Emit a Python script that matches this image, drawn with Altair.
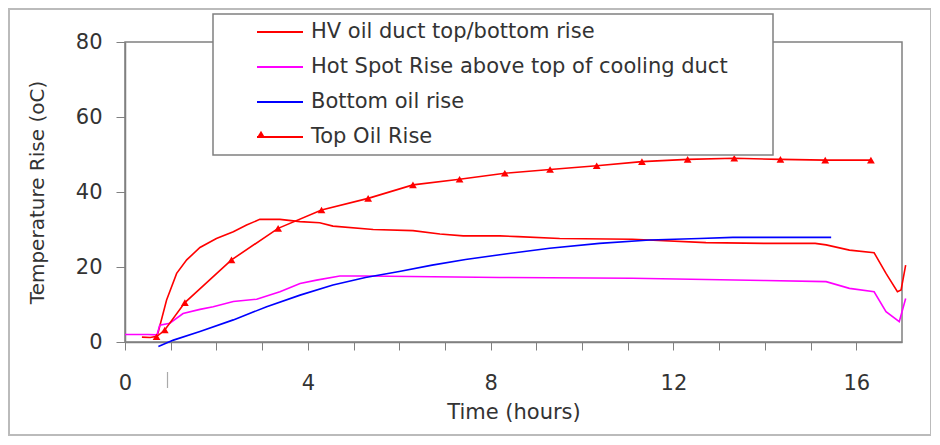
import altair as alt
import pandas as pd

# ---------------- data ----------------
series_names = [
    "HV oil duct top/bottom rise",
    "Hot Spot Rise above top of cooling duct",
    "Bottom oil rise",
    "Top Oil Rise",
]
series_colors = ["#ff0000", "#ff00ff", "#0000ff", "#ff0000"]

hv_time = [0.37, 0.55, 0.70, 0.73, 0.91, 1.13, 1.35, 1.64, 2.00, 2.37, 2.66, 2.95,
           3.39, 3.83, 4.26, 4.55, 5.43, 6.30, 6.89, 7.40, 8.20, 8.60, 9.51, 11.10,
           12.71, 14.00, 15.10, 15.34, 15.85, 16.39, 16.65, 16.90, 16.98, 17.08]
hv_rise = [1.3, 1.2, 1.5, 2.8, 11.2, 18.3, 21.9, 25.2, 27.6, 29.4, 31.2, 32.7,
           32.7, 32.1, 31.8, 30.9, 30.0, 29.7, 28.8, 28.3, 28.3, 28.1, 27.6, 27.4,
           26.5, 26.3, 26.3, 25.9, 24.5, 23.8, 18.3, 13.4, 13.9, 20.5]

hs_time = [0.00, 0.50, 0.70, 0.76, 0.98, 1.27, 1.64, 1.93, 2.37, 2.88, 3.39, 3.83,
           4.19, 4.70, 5.26, 8.20, 11.10, 14.00, 15.34, 15.85, 16.39, 16.65, 16.94, 17.08]
hs_rise = [2.0, 2.0, 1.9, 4.5, 5.0, 7.6, 8.7, 9.4, 10.8, 11.4, 13.4, 15.6,
           16.5, 17.6, 17.6, 17.2, 17.0, 16.4, 16.1, 14.3, 13.4, 8.1, 5.4, 11.6]

bo_time = [0.73, 1.06, 1.64, 2.37, 3.10, 3.83, 4.55, 5.26, 6.00, 6.72, 7.45, 8.40,
           9.29, 10.38, 11.48, 12.57, 13.30, 14.39, 15.45]
bo_rise = [-1.2, 0.5, 2.8, 5.9, 9.4, 12.5, 15.2, 17.2, 18.8, 20.5, 22.0, 23.6,
           25.0, 26.3, 27.2, 27.6, 27.9, 27.9, 27.9]

to_time = [0.69, 0.87, 1.31, 2.33, 3.35, 4.30, 5.32, 6.30, 7.32, 8.31, 9.30, 10.32,
           11.31, 12.31, 13.33, 14.34, 15.32, 16.32]
to_rise = [1.4, 3.2, 10.5, 21.9, 30.3, 35.2, 38.3, 41.9, 43.4, 45.0, 46.0, 47.0,
           48.1, 48.7, 49.0, 48.7, 48.5, 48.5]

x_ticks = list(range(0, 17))
y_ticks = list(range(0, 81, 10))
stray_mark_time = [0.93]

# ---------------- tables ----------------
rows = []
for name, ts, vs in [(series_names[0], hv_time, hv_rise),
                     (series_names[1], hs_time, hs_rise),
                     (series_names[2], bo_time, bo_rise),
                     (series_names[3], to_time, to_rise)]:
    for t, v in zip(ts, vs):
        rows.append({"series": name, "t": t, "v": v})
df = pd.DataFrame(rows)
df_top = pd.DataFrame({"t": to_time, "v": to_rise, "marker": series_names[3]})
df_stray = pd.DataFrame({"t": stray_mark_time})
df_frame = pd.DataFrame({"k": [0]})

FONT = "DejaVu Sans"
GRAY = "#808080"
TXT = "#333333"

x_enc = alt.X(
    "t:Q",
    scale=alt.Scale(domain=[0, 17], nice=False, zero=False),
    axis=alt.Axis(
        values=x_ticks,
        labelExpr="datum.value % 4 == 0 ? datum.label : ''",
        title="Time (hours)",
        grid=False,
        tickSize=8,
        labelPadding=22,
        titlePadding=8,
        domainColor=GRAY,
        tickColor=GRAY,
        domainWidth=1.5,
        labelFont=FONT,
        labelFontSize=21,
        labelColor=TXT,
        titleFont=FONT,
        titleFontSize=21,
        titleFontWeight="normal",
        titleColor=TXT,
        labelFlush=False,
    ),
)
y_enc = alt.Y(
    "v:Q",
    scale=alt.Scale(domain=[0, 80], nice=False),
    axis=alt.Axis(
        values=y_ticks,
        labelExpr="datum.value % 20 == 0 ? datum.label : ''",
        title="Temperature Rise (oC)",
        grid=False,
        tickSize=9,
        labelPadding=14,
        titlePadding=28,
        domainColor=GRAY,
        tickColor=GRAY,
        domainWidth=1.5,
        labelFont=FONT,
        labelFontSize=21,
        labelColor=TXT,
        titleFont=FONT,
        titleFontSize=20,
        titleFontWeight="normal",
        titleColor=TXT,
        labelFlush=False,
    ),
)

frame = alt.Chart(df_frame).mark_rect(
    fill=None, stroke="#bbbbbb", strokeWidth=2
).encode(
    x=alt.value(-116), x2=alt.value(806), y=alt.value(-33), y2=alt.value(393)
)

lines = alt.Chart(df).mark_line(strokeWidth=1.6, clip=False).encode(
    x=x_enc,
    y=y_enc,
    color=alt.Color(
        "series:N",
        sort=series_names,
        scale=alt.Scale(domain=series_names, range=series_colors),
        legend=alt.Legend(
            orient="none",
            legendX=88,
            legendY=-28,
            # invisible spacer title on the right widens the box like the original
            title=".",
            titleOrient="right",
            titleOpacity=0,
            titlePadding=31,
            titleFontSize=21,
            symbolType="stroke",
            symbolSize=2116,
            symbolStrokeWidth=2,
            clipHeight=20,
            rowPadding=14,
            padding=8,
            symbolOffset=35,
            labelOffset=7,
            labelFont=FONT,
            labelFontSize=21,
            labelColor=TXT,
            labelLimit=700,
            fillColor="white",
            strokeColor=GRAY,
        ),
    ),
)

points = alt.Chart(df_top).mark_point(
    filled=True, size=60, color="#ff0000", opacity=1, clip=False
).encode(
    x="t:Q",
    y="v:Q",
    shape=alt.Shape(
        "marker:N",
        scale=alt.Scale(domain=[series_names[3]], range=["triangle-up"]),
        legend=alt.Legend(
            orient="none",
            legendX=96 + 35,
            legendY=-28 + 8 + 3 * 34,
            title=None,
            padding=0,
            symbolSize=60,
            symbolFillColor="#ff0000",
            symbolStrokeColor="#ff0000",
            symbolStrokeWidth=0,
            symbolOpacity=1,
            clipHeight=20,
            labelExpr="''",
        ),
    ),
)

stray = alt.Chart(df_stray).mark_rule(color="#aaaaaa", strokeWidth=1.2).encode(
    x="t:Q", y=alt.value(330), y2=alt.value(346)
)

chart = alt.layer(frame, lines, points, stray).resolve_legend(
    color="independent", shape="independent"
).properties(
    width=777,
    height=300,
    autosize="none",
    padding={"left": 117, "top": 34, "right": 29, "bottom": 95},
    background="white",
).configure_view(
    stroke=GRAY, strokeWidth=1.5
).configure_legend(
    strokeWidth=1.5
)

chart.save("out.html", embed_options={"renderer": "svg", "actions": False})
